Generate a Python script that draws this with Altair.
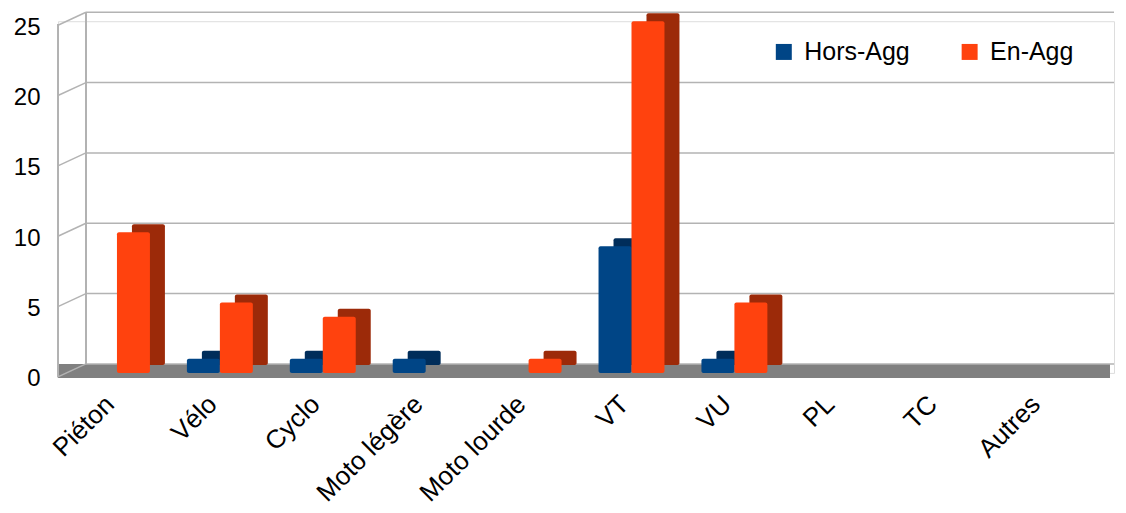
import altair as alt
import pandas as pd

categories = ["Piéton", "Vélo", "Cyclo", "Moto légère", "Moto lourde", "VT", "VU", "PL", "TC", "Autres"]
series = ["Hors-Agg", "En-Agg"]
hors_agg = [0, 1, 1, 1, 0, 9, 1, 0, 0, 0]
en_agg = [10, 5, 4, 0, 1, 25, 5, 0, 0, 0]
y_ticks = [0, 5, 10, 15, 20, 25]

rows = []
for c, h, e in zip(categories, hors_agg, en_agg):
    rows.append({"cat": c, "series": "Hors-Agg", "v": h, "base": 0})
    rows.append({"cat": c, "series": "En-Agg", "v": e, "base": 0})
df = pd.DataFrame(rows)
grid_df = pd.DataFrame({"v": y_ticks})

W = 1057
H = 352
FONT = "Liberation Sans"
GRID = "#b3b3b3"
BLUE, BLUE_D = "#004586", "#002d5a"
ORANGE, ORANGE_D = "#ff420e", "#9c2a09"
BW = 33      # bar face width in px
DX, DY = 15, -8  # depth offset for the side/top faces

yscale = alt.Scale(domain=[0, 25], nice=False, zero=True)
yaxis = alt.Axis(values=y_ticks, grid=False, domain=False, ticks=False,
                 labelFontSize=24, labelPadding=18, labelOffset=6,
                 title=None, labelColor="#000000", labelFont=FONT)

xenc = alt.X(
    "cat:N", sort=categories,
    scale=alt.Scale(domain=categories, paddingInner=0, paddingOuter=0.131, align=0.28),
    axis=alt.Axis(labelAngle=-45, labelAlign="right", labelBaseline="middle",
                  labelFontSize=26, labelPadding=27, labelOffset=-7,
                  domain=False, ticks=False,
                  title=None, labelColor="#000000", labelFont=FONT),
)

floor = alt.Chart(grid_df).mark_rect(color="#808080", yOffset=5, y2Offset=-9).encode(
    x=alt.value(0), x2=alt.value(W - 4),
    y=alt.datum(0, scale=yscale, axis=yaxis), y2=alt.datum(0),
)

grid = alt.Chart(grid_df).mark_rule(color=GRID, strokeWidth=1.5, yOffset=-9).encode(
    x=alt.value(28), x2=alt.value(W),
    y=alt.Y("v:Q", scale=yscale, axis=yaxis),
)
diag = alt.Chart(grid_df).mark_rule(color=GRID, strokeWidth=1.5, yOffset=4, y2Offset=-9).encode(
    x=alt.value(0), x2=alt.value(28),
    y=alt.Y("v:Q", scale=yscale, axis=yaxis), y2="v:Q",
)
wall = alt.Chart(grid_df).mark_rule(color=GRID, strokeWidth=1.5, yOffset=-9, y2Offset=-9).encode(
    x=alt.value(28),
    y=alt.datum(0, scale=yscale, axis=yaxis), y2=alt.datum(25),
)
front = alt.Chart(grid_df).mark_rule(color=GRID, strokeWidth=1.5, yOffset=4, y2Offset=3).encode(
    x=alt.value(0),
    y=alt.datum(0, scale=yscale, axis=yaxis), y2=alt.datum(25),
)

def bars(name, dx, dy, color=None, legend=False):
    base = alt.Chart(df).transform_filter(alt.datum.series == name)
    m = base.mark_bar(width=BW, xOffset=dx, yOffset=dy, y2Offset=dy, cornerRadius=2)
    if legend:
        c = alt.Color("series:N", sort=series,
                      scale=alt.Scale(domain=series, range=[BLUE, ORANGE]),
                      legend=alt.Legend(orient="none", legendX=714, legendY=18,
                                        direction="horizontal", title=None,
                                        symbolType="square", symbolSize=256,
                                        symbolStrokeWidth=0, labelFontSize=25,
                                        labelFont=FONT, labelColor="#000000",
                                        labelOffset=8, columnPadding=47, padding=0))
    else:
        c = alt.value(color)
    return m.encode(x=xenc, y=alt.Y("v:Q", scale=yscale, axis=yaxis),
                    y2=alt.Y2("base:Q"), color=c)

blue_back = bars("Hors-Agg", -BW / 2 + DX, DY, BLUE_D)
orange_back = bars("En-Agg", BW / 2 + DX, DY, ORANGE_D)
blue_front = bars("Hors-Agg", -BW / 2, 0, legend=True)
orange_front = bars("En-Agg", BW / 2, 0, legend=True)

chart = alt.layer(floor, grid, diag, wall, front,
                  blue_back, orange_back, blue_front, orange_front).properties(
    width=W, height=H,
    padding={"left": 5, "top": 3, "right": 3, "bottom": 5},
).configure_view(stroke=None).configure(font=FONT)

chart.save("out.html", embed_options={"renderer": "svg", "actions": False})
